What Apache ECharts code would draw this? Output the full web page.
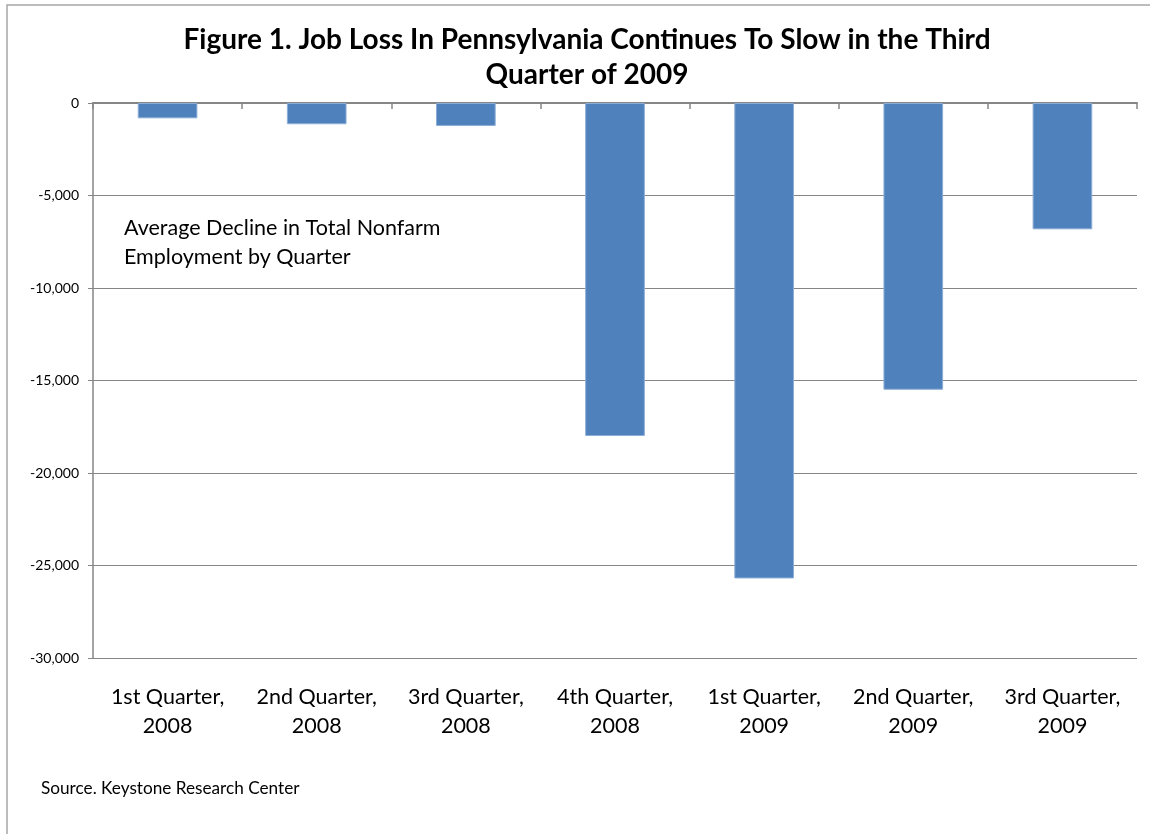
<!DOCTYPE html>
<html>
<head>
<meta charset="utf-8">
<script src="https://cdn.jsdelivr.net/npm/echarts@6/dist/echarts.min.js"></script>
<style>
html,body{margin:0;padding:0;background:#fff;}
#chart{width:1150px;height:834px;}
</style>
</head>
<body>
<div id="chart"></div>
<script>
const categories = ["1st Quarter,\n2008", "2nd Quarter,\n2008", "3rd Quarter,\n2008", "4th Quarter,\n2008", "1st Quarter,\n2009", "2nd Quarter,\n2009", "3rd Quarter,\n2009"];
const declines = [-830, -1150, -1240, -18000, -25700, -15500, -6830];
const yTicks = [0, -5000, -10000, -15000, -20000, -25000, -30000];
const titleText = "Figure 1. Job Loss In Pennsylvania Continues To Slow in the Third\nQuarter of 2009";
const noteText = "Average Decline in Total Nonfarm\nEmployment by Quarter";
const sourceText = "Source. Keystone Research Center";

const FONT = "Lato, 'Open Sans', sans-serif";
const chart = echarts.init(document.getElementById('chart'), null, {renderer: 'canvas'});
chart.setOption({
  backgroundColor: '#ffffff',
  animation: false,
  title: {
    text: titleText,
    left: 582,
    top: 17,
    textAlign: 'center',
    textStyle: {fontFamily: FONT, fontSize: 28, fontWeight: 'bold', color: '#000', lineHeight: 35}
  },
  grid: {left: 93, right: 13, top: 103, bottom: 176, containLabel: false},
  xAxis: [
    {
      type: 'category', data: categories, position: 'top',
      axisLine: {show: true, onZero: false, lineStyle: {color: '#868686', width: 2}},
      axisTick: {show: true, inside: true, length: 6, lineStyle: {color: '#868686', width: 1.5}},
      axisLabel: {show: false},
      splitLine: {show: false}
    },
    {
      type: 'category', data: categories, position: 'bottom', gridIndex: 0,
      axisLine: {show: false, onZero: false},
      axisTick: {show: false},
      axisLabel: {show: true, margin: 25, fontFamily: FONT, fontSize: 21.5, color: '#000', lineHeight: 29, interval: 0},
      splitLine: {show: false}
    }
  ],
  yAxis: {
    type: 'value', min: -30000, max: 0, interval: 5000,
    axisLine: {show: true, lineStyle: {color: '#868686', width: 1.5}},
    axisTick: {show: true, length: 5, lineStyle: {color: '#868686'}},
    axisLabel: {
      margin: 14, fontFamily: FONT, fontSize: 14, color: '#000',
      formatter: v => yTicks.includes(v) ? v.toLocaleString('en-US') : ''
    },
    splitLine: {show: true, lineStyle: {color: '#868686', width: 1.2}}
  },
  series: [{
    type: 'bar', xAxisIndex: 0, data: declines, barWidth: '40%',
    itemStyle: {color: '#4F81BD', borderColor: '#8CADD6', borderWidth: 1}
  }],
  graphic: [
    {type: 'rect', shape: {x: 7, y: 5, width: 1160, height: 850}, style: {fill: 'none', stroke: '#a6a6a6', lineWidth: 1.5}, silent: true, z: -1},
    {type: 'text', x: 124, y: 214, style: {text: noteText, fontFamily: FONT, fontSize: 21.5, fill: '#000', lineHeight: 29}},
    {type: 'text', x: 41, y: 780, style: {text: sourceText, fontFamily: FONT, fontSize: 17.2, fill: '#000'}}
  ]
});
</script>
</body>
</html>
